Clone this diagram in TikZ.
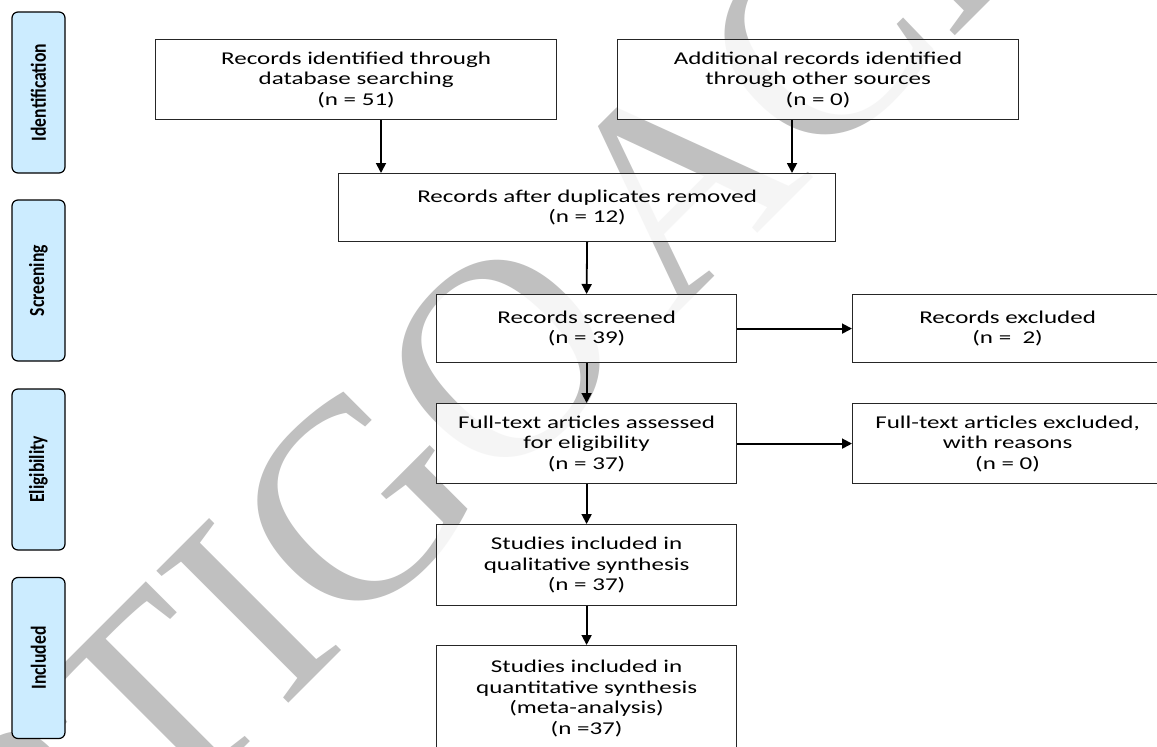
\documentclass[tikz,border=0pt]{standalone}
\usepackage{fontspec}
\setmainfont{Carlito}
\newfontfamily\boxfont{Carlito}[FakeStretch=1.39]
\newfontfamily\phasefont{Carlito}[FakeStretch=0.82]
\newfontfamily\wmfont{Liberation Serif}
\usetikzlibrary{arrows.meta}
\definecolor{phaseblue}{RGB}{204,236,255}
\definecolor{wmgray}{RGB}{192,192,192}
\begin{document}
\begin{tikzpicture}[x=1pt,y=-1pt,
  box/.style={draw=black!85, line width=1.2pt, fill=white, fill opacity=0.85, text opacity=1,
    draw opacity=1, rectangle, inner sep=0pt,
    align=center, anchor=north west, font=\boxfont\fontsize{18}{20.5}\selectfont},
  phase/.style={draw=black, line width=1.2pt, fill=phaseblue, rounded corners=6pt,
    rotate=90, minimum width=161pt, minimum height=53pt, inner sep=0pt,
    font=\phasefont\bfseries\fontsize{21.5}{24}\selectfont},
  arr/.style={line width=1.8pt, -{Triangle[length=10pt,width=10pt]}},
  wm/.style={rotate=45, text=wmgray, inner sep=0pt, font=\wmfont\fontsize{285}{285}\selectfont}
]
\path[use as bounding box] (0,0) rectangle (1157,747);
\clip (0,0) rectangle (1157,747);
\fill[white] (0,0) rectangle (1157,747);

% watermark
\node[wm] (wmark) at (582,278) {ARTIGO\hspace{0.15em}ACEITO};

% phase labels
\node[phase] (pid) at (38.5,92.5) {Identification};
\node[phase] (pscr) at (38.5,280.5) {Screening};
\node[phase] (pel) at (38.5,469.5) {Eligibility};
\node[phase] (pinc) at (38.5,658) {Included};

% boxes
\node[box, minimum width=401pt, minimum height=80pt] (db) at (155,39)
  {Records identified through\\database searching\\(n = 51)};
\node[box, minimum width=401pt, minimum height=80pt] (other) at (617,39)
  {Additional records identified\\through other sources\\(n = 0)};
\node[box, minimum width=497pt, minimum height=68pt] (dup) at (338,173)
  {Records after duplicates removed\\(n = 12)};
\node[box, minimum width=300pt, minimum height=68pt] (scr) at (436,294)
  {Records screened\\(n = 39)};
\node[box, minimum width=310pt, minimum height=68pt] (exc) at (852,294)
  {Records excluded\\(n =\ \ 2)};
\node[box, minimum width=300pt, minimum height=80pt] (ft) at (436,403)
  {Full-text articles assessed\\for eligibility\\(n = 37)};
\node[box, minimum width=310pt, minimum height=80pt] (ftexc) at (852,403)
  {Full-text articles excluded,\\with reasons\\(n = 0)};
\node[box, minimum width=300pt, minimum height=81pt] (qual) at (436,524)
  {Studies included in\\qualitative synthesis\\(n = 37)};
\node[box, minimum width=300pt, minimum height=106pt] (quant) at (436,645)
  {Studies included in\\quantitative synthesis\\(meta-analysis)\\(n =37)};

% connectors
\coordinate (c1) at (381,0);
\coordinate (c2) at (792,0);
\draw[arr] (c1 |- db.south) -- (c1 |- dup.north);
\draw[arr] (c2 |- other.south) -- (c2 |- dup.north);
\draw[arr] (dup.south) -- (scr.north);
\draw[arr] (scr.east) -- (exc.west);
\draw[arr] (scr.south) -- (ft.north);
\draw[arr] (ft.east) -- (ftexc.west);
\draw[arr] (ft.south) -- (qual.north);
\draw[arr] (qual.south) -- (quant.north);
\end{tikzpicture}
\end{document}
